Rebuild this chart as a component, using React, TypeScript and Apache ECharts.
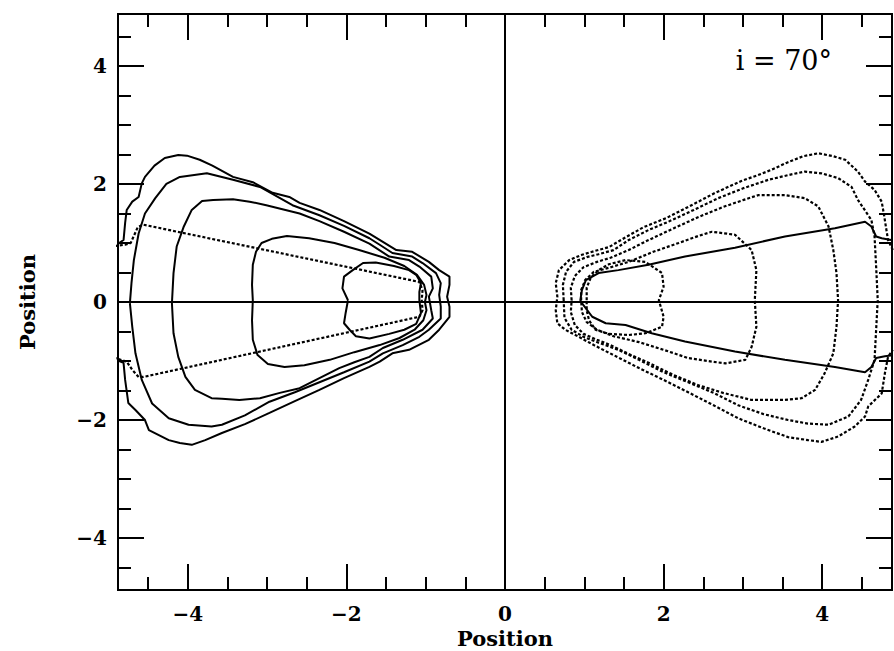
import React, { useEffect, useRef } from "react";
import * as echarts from "echarts";

// axis ranges and ticks
const xRange = [-4.88, 4.88];
const yRange = [-4.88, 4.88];
const majorTicks = [-4, -2, 0, 2, 4];
const minorTicks = [-4.5, -4, -3.5, -3, -2.5, -2, -1.5, -1, -0.5, 0, 0.5, 1, 1.5, 2, 2.5, 3, 3.5, 4, 4.5];
const annotation = "i = 70°";
const axisName = "Position";

// left side: solid contours (outer -> inner)
const leftC1 = [
  [-4.92, 0.95], [-4.81, 1.05], [-4.79, 1.34], [-4.77, 1.56], [-4.70, 1.70], [-4.62, 1.78], [-4.58, 2.01],
  [-4.54, 2.12], [-4.42, 2.31], [-4.29, 2.44], [-4.12, 2.49], [-4.01, 2.48], [-3.85, 2.41], [-3.69, 2.31],
  [-3.43, 2.12], [-3.18, 2.03], [-2.93, 1.85], [-2.72, 1.78], [-2.59, 1.68], [-2.34, 1.56], [-2.03, 1.37],
  [-1.71, 1.16], [-1.54, 1.02], [-1.37, 0.88], [-1.17, 0.85], [-0.96, 0.68], [-0.83, 0.54], [-0.70, 0.43],
  [-0.70, 0.29], [-0.73, 0.09], [-0.70, -0.08], [-0.70, -0.25], [-0.83, -0.47], [-0.96, -0.64], [-1.21, -0.81],
  [-1.42, -0.87], [-1.58, -1.01], [-1.71, -1.10], [-2.03, -1.29], [-2.34, -1.49], [-2.65, -1.68], [-2.97, -1.88],
  [-3.28, -2.07], [-3.57, -2.22], [-3.78, -2.34], [-3.95, -2.42], [-4.10, -2.39], [-4.24, -2.34], [-4.49, -2.17],
  [-4.54, -2.00], [-4.66, -1.83], [-4.75, -1.71], [-4.79, -1.32], [-4.81, -1.03], [-4.92, -0.97],
];
const leftC2 = [
  [-4.73, -0.02], [-4.71, 0.32], [-4.68, 0.71], [-4.62, 1.16], [-4.54, 1.50], [-4.41, 1.76], [-4.27, 2.00],
  [-4.10, 2.12], [-3.76, 2.18], [-3.43, 2.07], [-3.09, 1.95], [-2.68, 1.64], [-2.34, 1.47], [-2.03, 1.29],
  [-1.71, 1.08], [-1.58, 0.97], [-1.42, 0.83], [-1.17, 0.77], [-1.04, 0.66], [-0.87, 0.49], [-0.81, 0.32],
  [-0.83, 0.12], [-0.81, -0.08], [-0.81, -0.28], [-0.96, -0.47], [-1.08, -0.59], [-1.29, -0.73], [-1.54, -0.87],
  [-1.71, -1.01], [-2.03, -1.19], [-2.34, -1.36], [-2.65, -1.53], [-2.97, -1.69], [-3.28, -1.92], [-3.57, -2.08],
  [-3.70, -2.11], [-3.99, -2.08], [-4.24, -1.97], [-4.45, -1.72], [-4.58, -1.32], [-4.66, -0.87], [-4.70, -0.42],
  [-4.73, -0.02],
];
const leftC3 = [
  [-4.20, -0.02], [-4.18, 0.49], [-4.14, 0.94], [-4.05, 1.28], [-3.95, 1.56], [-3.82, 1.71], [-3.68, 1.73],
  [-3.43, 1.74], [-3.22, 1.70], [-3.01, 1.64], [-2.59, 1.50], [-2.34, 1.37], [-2.03, 1.19], [-1.71, 0.99],
  [-1.46, 0.77], [-1.21, 0.71], [-1.08, 0.60], [-0.93, 0.43], [-0.91, 0.23], [-0.96, 0.09], [-0.93, -0.14],
  [-0.91, -0.28], [-1.04, -0.47], [-1.29, -0.64], [-1.54, -0.78], [-1.71, -0.93], [-1.90, -1.02], [-2.09, -1.12],
  [-2.34, -1.29], [-2.59, -1.46], [-2.84, -1.54], [-3.09, -1.63], [-3.35, -1.66], [-3.57, -1.64], [-3.70, -1.63],
  [-3.91, -1.49], [-4.03, -1.27], [-4.12, -0.93], [-4.18, -0.53], [-4.20, -0.02],
];
const leftC4 = [
  [-3.18, 0.03], [-3.19, 0.29], [-3.18, 0.63], [-3.14, 0.85], [-3.07, 1.00], [-2.94, 1.07], [-2.75, 1.12],
  [-2.47, 1.08], [-2.15, 1.00], [-1.84, 0.88], [-1.52, 0.75], [-1.27, 0.61], [-1.11, 0.46], [-1.02, 0.29],
  [-0.99, 0.12], [-1.01, 0.00], [-0.99, -0.14], [-1.03, -0.31], [-1.14, -0.47], [-1.33, -0.61], [-1.58, -0.73],
  [-1.90, -0.85], [-2.21, -0.98], [-2.53, -1.07], [-2.78, -1.10], [-2.99, -1.05], [-3.12, -0.90], [-3.18, -0.64],
  [-3.19, -0.31], [-3.18, 0.03],
];
const leftC5 = [
  [-1.98, 0.03], [-2.05, 0.23], [-2.03, 0.43], [-1.92, 0.54], [-1.79, 0.66], [-1.63, 0.67], [-1.40, 0.61],
  [-1.21, 0.54], [-1.12, 0.46], [-1.06, 0.32], [-1.08, 0.17], [-1.08, 0.03], [-1.06, -0.19], [-1.12, -0.37],
  [-1.27, -0.47], [-1.46, -0.54], [-1.71, -0.62], [-1.88, -0.58], [-1.96, -0.47], [-2.03, -0.36], [-2.01, -0.19],
  [-1.98, 0.03],
];
// left side: dotted cone
const leftCone = [
  [-4.92, 0.95], [-4.79, 0.97], [-4.72, 1.00], [-4.68, 1.12], [-4.63, 1.27], [-4.56, 1.31], [-1.08, 0.34],
  [-1.04, 0.20], [-1.05, 0.03], [-1.04, -0.14], [-1.08, -0.25], [-4.56, -1.27], [-4.62, -1.27], [-4.70, -1.15],
  [-4.77, -1.01], [-4.92, -0.95],
];

// right side: dotted contours (outer -> inner)
const rightD1 = [
  [4.89, 0.88], [4.83, 1.05], [4.78, 1.47], [4.75, 1.70], [4.66, 1.90], [4.54, 2.04], [4.45, 2.21], [4.29, 2.41],
  [4.14, 2.47], [3.95, 2.52], [3.76, 2.47], [3.57, 2.37], [3.36, 2.24], [3.19, 2.15], [2.98, 2.05], [2.65, 1.85],
  [2.31, 1.61], [2.03, 1.42], [1.75, 1.27], [1.50, 1.08], [1.31, 0.93], [1.12, 0.86], [0.97, 0.80], [0.81, 0.71],
  [0.68, 0.54], [0.64, 0.32], [0.66, 0.09], [0.64, -0.14], [0.66, -0.36], [0.76, -0.47], [0.93, -0.59],
  [1.12, -0.73], [1.37, -0.90], [1.69, -1.12], [2.00, -1.32], [2.31, -1.53], [2.63, -1.75], [2.94, -1.97],
  [3.26, -2.14], [3.57, -2.29], [3.82, -2.34], [3.99, -2.37], [4.20, -2.28], [4.41, -2.11], [4.54, -1.94],
  [4.58, -1.77], [4.75, -1.55], [4.79, -1.21], [4.83, -0.93], [4.89, -0.81],
];
const rightD2 = [
  [0.74, 0.03], [0.73, 0.29], [0.77, 0.51], [0.87, 0.68], [1.03, 0.76], [1.18, 0.81], [1.37, 0.88], [1.56, 1.05],
  [1.81, 1.22], [2.06, 1.36], [2.38, 1.56], [2.69, 1.76], [3.01, 1.93], [3.32, 2.07], [3.57, 2.15], [3.78, 2.21],
  [3.99, 2.18], [4.20, 2.10], [4.37, 1.95], [4.45, 1.73], [4.62, 1.39], [4.66, 1.11], [4.68, 0.60], [4.70, 0.03],
  [4.68, -0.47], [4.66, -0.98], [4.58, -1.32], [4.49, -1.66], [4.33, -1.94], [4.08, -2.08], [3.82, -2.06],
  [3.57, -2.00], [3.26, -1.90], [2.94, -1.75], [2.63, -1.54], [2.31, -1.36], [2.00, -1.19], [1.69, -0.98],
  [1.43, -0.81], [1.18, -0.69], [0.99, -0.59], [0.84, -0.47], [0.75, -0.27], [0.74, 0.03],
];
const rightD3 = [
  [0.84, 0.03], [0.83, 0.24], [0.88, 0.44], [0.99, 0.59], [1.16, 0.68], [1.33, 0.75], [1.56, 0.88], [1.81, 1.05],
  [2.13, 1.25], [2.44, 1.44], [2.75, 1.61], [3.01, 1.73], [3.19, 1.81], [3.53, 1.81], [3.78, 1.76], [3.95, 1.62],
  [4.08, 1.28], [4.14, 0.88], [4.18, 0.49], [4.20, 0.03], [4.18, -0.42], [4.14, -0.87], [4.03, -1.21],
  [3.91, -1.49], [3.74, -1.63], [3.53, -1.66], [3.11, -1.66], [2.75, -1.54], [2.44, -1.41], [2.13, -1.24],
  [1.81, -1.03], [1.56, -0.88], [1.33, -0.73], [1.16, -0.64], [0.99, -0.54], [0.88, -0.39], [0.83, -0.17],
  [0.84, 0.03],
];
const rightD4 = [
  [0.96, 0.03], [0.96, 0.20], [1.01, 0.37], [1.12, 0.51], [1.31, 0.58], [1.56, 0.68], [1.87, 0.85], [2.19, 1.00],
  [2.44, 1.12], [2.61, 1.19], [2.90, 1.14], [3.11, 0.88], [3.17, 0.54], [3.15, 0.03], [3.17, -0.42], [3.11, -0.76],
  [3.03, -0.98], [2.78, -1.04], [2.61, -1.01], [2.31, -0.95], [2.00, -0.81], [1.69, -0.68], [1.37, -0.58],
  [1.16, -0.47], [1.03, -0.34], [0.97, -0.17], [0.96, 0.03],
];
const rightD5 = [
  [1.03, 0.03], [1.03, 0.24], [1.08, 0.41], [1.18, 0.54], [1.31, 0.64], [1.52, 0.71], [1.77, 0.68], [1.98, 0.49],
  [2.00, 0.26], [1.94, 0.03], [2.00, -0.25], [1.98, -0.42], [1.77, -0.53], [1.56, -0.56], [1.31, -0.54],
  [1.14, -0.47], [1.06, -0.31], [1.03, -0.14], [1.03, 0.03],
];
// right side: solid cone
const rightCone = [
  [4.92, 1.05], [4.87, 1.05], [4.75, 1.08], [4.68, 1.11], [4.62, 1.28], [4.54, 1.36], [4.16, 1.25], [3.53, 1.11],
  [2.90, 0.92], [2.27, 0.77], [1.81, 0.63], [1.43, 0.54], [1.18, 0.49], [1.02, 0.37], [0.97, 0.20], [0.95, 0.03],
  [0.97, -0.02], [1.10, -0.25], [1.27, -0.36], [1.52, -0.39], [1.85, -0.53], [2.27, -0.67], [2.90, -0.84],
  [3.53, -0.98], [4.16, -1.10], [4.54, -1.19], [4.62, -1.10], [4.68, -0.95], [4.79, -0.92], [4.92, -0.90],
];

const solidSets = [leftC1, leftC2, leftC3, leftC4, leftC5, rightCone];
const dottedSets = [rightD1, rightD2, rightD3, rightD4, rightD5, leftCone];

const FONT = "DejaVu Serif";
const fmt = (v: number) => (v < 0 ? "\u2212" + Math.abs(v) : String(v));

function xAxisDef(position: string, ticks: number[], len: number, withLabels: boolean) {
  return {
    type: "value",
    position,
    min: xRange[0],
    max: xRange[1],
    gridIndex: 0,
    name: withLabels ? axisName : "",
    nameLocation: "middle",
    nameGap: 38,
    nameMoveOverlap: false,
    nameTextStyle: { color: "#000", fontFamily: FONT, fontSize: 21, fontWeight: "bold", lineHeight: 20 },
    axisLine: { show: true, onZero: false, lineStyle: { color: "#000", width: 2 } },
    axisTick: { show: true, inside: true, length: len, customValues: ticks, lineStyle: { color: "#000", width: 2 } },
    axisLabel: withLabels
      ? { show: true, customValues: majorTicks, formatter: fmt, margin: 16, lineHeight: 16, color: "#000", fontFamily: FONT, fontSize: 20, fontWeight: "bold" }
      : { show: false },
    splitLine: { show: false },
  };
}
function yAxisDef(position: string, ticks: number[], len: number, withLabels: boolean) {
  return {
    type: "value",
    position,
    min: yRange[0],
    max: yRange[1],
    gridIndex: 0,
    name: withLabels ? axisName : "",
    nameLocation: "middle",
    nameGap: 80,
    nameMoveOverlap: false,
    nameTextStyle: { color: "#000", fontFamily: FONT, fontSize: 21, fontWeight: "bold" },
    axisLine: { show: true, onZero: false, lineStyle: { color: "#000", width: 2 } },
    axisTick: { show: true, inside: true, length: len, customValues: ticks, lineStyle: { color: "#000", width: 2 } },
    axisLabel: withLabels
      ? { show: true, customValues: majorTicks, formatter: fmt, margin: 11, color: "#000", fontFamily: FONT, fontSize: 20, fontWeight: "bold" }
      : { show: false },
    splitLine: { show: false },
  };
}

export default function App() {
  const ref = useRef<HTMLDivElement>(null);
  useEffect(() => {
    const chart = echarts.init(ref.current!, null, { renderer: "svg" });
    const series: any[] = [];
    solidSets.forEach((d) =>
      series.push({
        type: "line",
        data: d,
        showSymbol: false,
        symbol: "none",
        silent: true,
        lineStyle: { color: "#000", width: 2, type: "solid" },
      })
    );
    dottedSets.forEach((d) =>
      series.push({
        type: "line",
        data: d,
        showSymbol: false,
        symbol: "none",
        silent: true,
        lineStyle: { color: "#000", width: 2.2, type: [3, 2] },
      })
    );
    series.push({
      type: "line",
      data: [],
      symbol: "none",
      markLine: {
        silent: true,
        symbol: ["none", "none"],
        label: { show: false },
        lineStyle: { color: "#000", width: 2, type: "solid" },
        data: [{ xAxis: 0 }, { yAxis: 0 }],
      },
    });
    const option: any = {
      animation: false,
      backgroundColor: "#fff",
      grid: { left: 118, top: 14, width: 774, height: 576, containLabel: false, outerBoundsMode: "none" },
      xAxis: [
        xAxisDef("bottom", majorTicks, 26, true),
        xAxisDef("bottom", minorTicks, 13, false),
        xAxisDef("top", majorTicks, 26, false),
        xAxisDef("top", minorTicks, 13, false),
      ],
      yAxis: [
        yAxisDef("left", majorTicks, 26, true),
        yAxisDef("left", minorTicks, 13, false),
        yAxisDef("right", majorTicks, 26, false),
        yAxisDef("right", minorTicks, 13, false),
      ],
      graphic: [
        {
          type: "text",
          right: 62,
          top: 47,
          style: { text: annotation, fill: "#000", font: `27px "${FONT}"` },
        },
      ],
      series,
    };
    chart.setOption(option);
    return () => chart.dispose();
  }, []);
  return (
    <div
      ref={ref}
      style={{ position: "fixed", left: 0, top: 0, width: 894, height: 651, background: "#fff" }}
    />
  );
}
